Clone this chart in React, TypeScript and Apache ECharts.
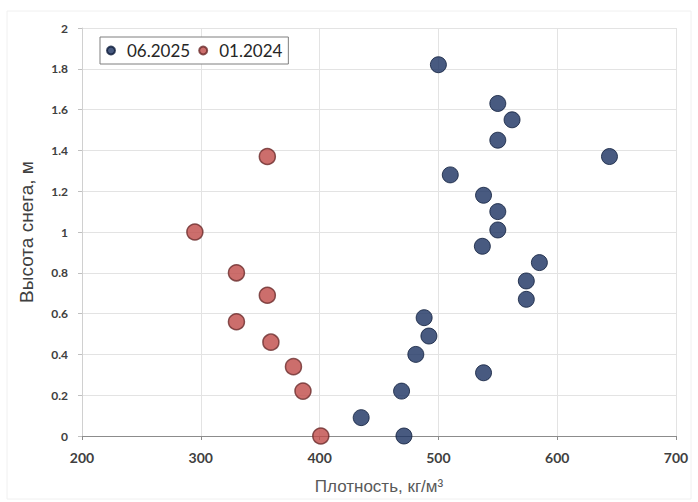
import React, { useEffect, useRef } from "react";
import * as echarts from "echarts";

const seriesNames = ["06.2025", "01.2024"];

// 06.2025: density (kg/m3), height (m)
const density2025 = [500, 550, 562, 550, 644, 510, 538, 550, 550, 537, 585, 574, 574, 488, 492, 481, 538, 469, 435, 471];
const height2025 = [1.82, 1.63, 1.55, 1.45, 1.37, 1.28, 1.18, 1.1, 1.01, 0.93, 0.85, 0.76, 0.67, 0.58, 0.49, 0.4, 0.31, 0.22, 0.09, 0.0];

// 01.2024
const density2024 = [356, 295, 330, 356, 330, 359, 378, 386, 401];
const height2024 = [1.37, 1.0, 0.8, 0.69, 0.56, 0.46, 0.34, 0.22, 0.0];

const xAxisName = "Плотность, кг/м³";
const yAxisName = "Высота снега, м";

export default function App() {
  const ref = useRef<HTMLDivElement>(null);
  useEffect(() => {
    document.body.style.margin = "0";
    const chart = echarts.init(ref.current!, null, { renderer: "svg" });
    const d1 = density2025.map((x, i) => [x, height2025[i]]);
    const d2 = density2024.map((x, i) => [x, height2024[i]]);
    chart.setOption({
      animation: false,
      backgroundColor: "#ffffff",
      textStyle: { fontFamily: "Lato" },
      graphic: [
        {
          type: "rect",
          shape: { x: 7, y: 11, width: 684, height: 488 },
          style: { fill: "none", stroke: "#f0f0f0", lineWidth: 1 },
          silent: true,
        },
      ],
      legend: {
        left: 100,
        top: 37,
        orient: "horizontal",
        backgroundColor: "#ffffff",
        borderColor: "#7f7f7f",
        borderWidth: 1,
        borderRadius: 0,
        padding: [5, 6, 5, 6],
        itemWidth: 22,
        itemHeight: 8,
        itemGap: 8,
        icon: "circle",
        textStyle: { fontSize: 17, color: "#262626", fontFamily: "Lato" },
        data: seriesNames,
      },
      grid: { left: 82, right: 22, top: 28, bottom: 66, containLabel: false },
      xAxis: {
        type: "value",
        min: 200,
        max: 700,
        interval: 100,
        name: xAxisName,
        nameLocation: "middle",
        nameGap: 42,
        nameTextStyle: { fontSize: 17, color: "#595959", fontFamily: "Liberation Sans" },
        axisLine: { show: true, lineStyle: { color: "#8c8c8c", width: 1 } },
        axisTick: { show: true, length: 4, lineStyle: { color: "#8c8c8c" } },
        axisLabel: { fontSize: 14, fontWeight: "bold", color: "#404040", margin: 14 },
        splitLine: { show: true, lineStyle: { color: "#e3e3e3", width: 1 } },
      },
      yAxis: {
        type: "value",
        min: 0,
        max: 2,
        interval: 0.2,
        name: yAxisName,
        nameLocation: "middle",
        nameGap: 46,
        nameRotate: 90,
        nameTextStyle: { fontSize: 19, color: "#404040", fontFamily: "Liberation Sans" },
        axisLine: { show: true, lineStyle: { color: "#d0d0d0", width: 1 } },
        axisTick: { show: true, length: 4, lineStyle: { color: "#c0c0c0" } },
        axisLabel: {
          fontSize: 12,
          fontWeight: "bold",
          color: "#404040",
          margin: 14,
          formatter: (v: number) => String(Math.round(v * 10) / 10),
        },
        splitLine: { show: true, lineStyle: { color: "#e3e3e3", width: 1 } },
      },
      series: [
        {
          name: seriesNames[0],
          type: "scatter",
          data: d1,
          symbolSize: 16,
          itemStyle: { color: "#1a3160", borderColor: "#0e1d3b", borderWidth: 1 },
          z: 3,
        },
        {
          name: seriesNames[1],
          type: "scatter",
          data: d2,
          symbolSize: 16,
          itemStyle: { color: "#bf4a47", borderColor: "#6b2c2c", borderWidth: 1.5 },
          z: 3,
        },
      ],
    });
    return () => chart.dispose();
  }, []);
  return <div ref={ref} style={{ width: 698, height: 502 }} />;
}
